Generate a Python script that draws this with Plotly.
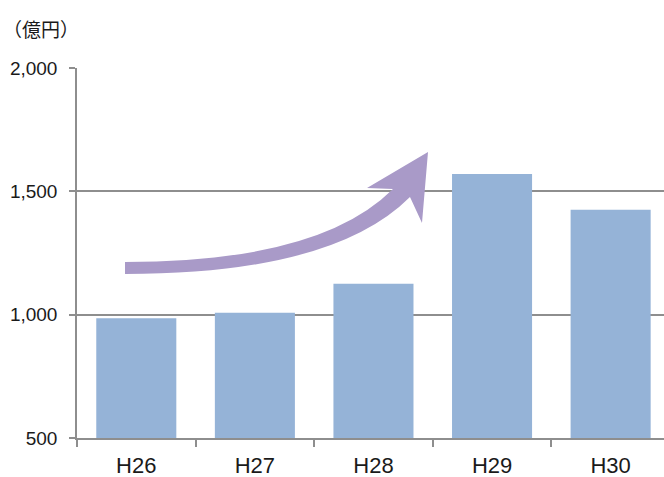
import plotly.graph_objects as go

# Fiscal years (Heisei) and amounts in 100-million yen
years = ["H26", "H27", "H28", "H29", "H30"]
amounts = [985, 1008, 1125, 1570, 1425]
y_ticks = [500, 1000, 1500, 2000]

W, H = 664, 477
M_L, M_R, M_T, M_B = 77, 0, 68, 39
PW, PH = W - M_L - M_R, H - M_T - M_B

BAR = "#95b3d7"
ARROW = "#a99ac8"
GRID = "#8e8e8e"
TXT = "#1a1a1a"


def px_to_paper(x, y):
    return (x - M_L) / PW, (H - M_B - y) / PH


def arrow_path():
    # curved upward trend arrow, outlined in pixel space then mapped to paper
    pts = [
        ("M", [(125, 262)]),
        ("Q", [(320, 262), (393, 189)]),
        ("L", [(367, 188)]),
        ("L", [(428, 152)]),
        ("L", [(422, 223)]),
        ("L", [(410, 197)]),
        ("Q", [(333, 274), (125, 274)]),
    ]
    out = []
    for cmd, coords in pts:
        parts = []
        for (x, y) in coords:
            px, py = px_to_paper(x, y)
            parts.append(f"{px:.5f},{py:.5f}")
        out.append(cmd + " " + " ".join(parts))
    return " ".join(out) + " Z"


fig = go.Figure()
fig.add_trace(go.Bar(
    x=years, y=amounts, width=0.675,
    marker=dict(color=BAR, line=dict(width=0)),
    hoverinfo="skip",
))

fig.add_shape(type="path", xref="paper", yref="paper", path=arrow_path(),
              fillcolor=ARROW, line=dict(width=0), layer="above")

ax, ay = px_to_paper(1, 28)
fig.add_annotation(text="（億円）", xref="paper", yref="paper", x=ax, y=ay,
                   xanchor="left", yanchor="middle", showarrow=False,
                   font=dict(family="Noto Sans CJK JP", size=19, color=TXT))

fig.update_layout(
    width=W, height=H,
    margin=dict(l=M_L, r=M_R, t=M_T, b=M_B, pad=0),
    paper_bgcolor="white", plot_bgcolor="white",
    showlegend=False,
    font=dict(family="Liberation Sans, Arial", color=TXT),
    bargap=0.3,
)
fig.update_xaxes(
    type="category", range=[-0.5, 4.45],
    showline=True, linecolor=GRID, linewidth=1.5,
    ticks="outside", tickson="boundaries", ticklen=7, tickcolor=GRID, tickwidth=1.5,
    tickfont=dict(size=22, color=TXT), showgrid=False, ticklabelstandoff=7,
)
fig.update_yaxes(
    range=[500, 2000], tickvals=y_ticks, tickformat=",d",
    showline=True, linecolor=GRID, linewidth=1.5,
    ticks="outside", ticklen=6, tickcolor=GRID, tickwidth=1.5,
    showgrid=True, gridcolor=GRID, gridwidth=1.5, zeroline=False,
    tickfont=dict(size=19, color=TXT), ticklabelstandoff=8,
)

fig.write_html("out.html")
